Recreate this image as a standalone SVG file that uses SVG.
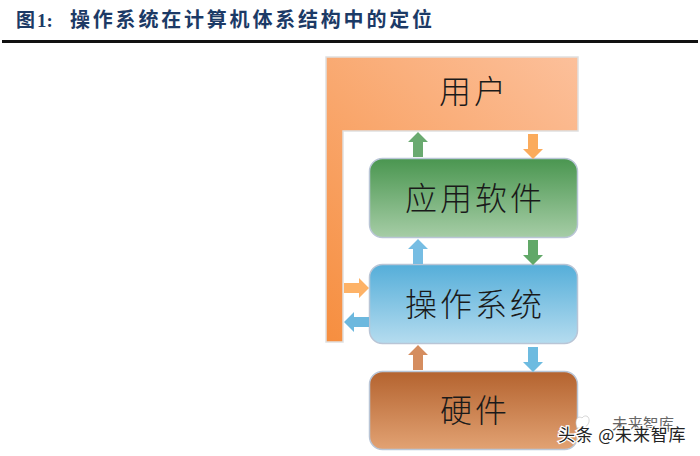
<svg xmlns="http://www.w3.org/2000/svg" width="700" height="456" viewBox="0 0 700 456">
<style>
.t{font-family:"Liberation Serif","Noto Sans CJK SC",serif;font-weight:700;font-size:19px;fill:#1c3a66}
.n{font-family:"Noto Sans CJK SC","Noto Sans",sans-serif;font-weight:300;font-size:32px;fill:#1a1a1a;text-anchor:middle}
.b{stroke:#b9c5d6;stroke-width:1.5}
.w{font-family:"Noto Sans CJK SC","Noto Sans",sans-serif;font-size:17px}
</style>
<defs>
<linearGradient id="gU" gradientUnits="userSpaceOnUse" x1="326" y1="342" x2="578" y2="57"><stop offset="0" stop-color="#f68e3f"/><stop offset="1" stop-color="#fcc09b"/></linearGradient>
<linearGradient id="gG" x1="0" y1="0" x2="0" y2="1"><stop offset="0" stop-color="#4a9650"/><stop offset="1" stop-color="#a6cda6"/></linearGradient>
<linearGradient id="gB" x1="0" y1="0" x2="0" y2="1"><stop offset="0" stop-color="#55aed9"/><stop offset="1" stop-color="#b5dcef"/></linearGradient>
<linearGradient id="gR" x1="0" y1="0" x2="0" y2="1"><stop offset="0" stop-color="#b4632f"/><stop offset="1" stop-color="#e2a273"/></linearGradient>
<path id="down" d="M-5 0H5V15H10L0 25L-10 15H-5Z"/>
</defs>
<rect width="700" height="456" fill="#fff"/>
<g id="title">
<text class="t" x="16" y="27">图</text>
<text class="t" x="37" y="27" font-size="20">1:</text>
<text class="t" x="70" y="27" style="font-size:20px" letter-spacing="2.800">操作系统在计算机体系结构中的定位</text>
<rect x="2" y="40" width="696" height="3" fill="#111"/>
</g>
<g id="user">
<path d="M326 57H578V131H343V342H326Z" fill="url(#gU)" stroke="#dfdfdf" stroke-width="1.5"/>
<text class="n" x="474" y="103" letter-spacing="3">用户</text>
</g>
<g id="app">
<rect class="b" x="369.500" y="158.500" width="208" height="79" rx="13" fill="url(#gG)"/>
<text class="n" x="475" y="210" letter-spacing="3">应用软件</text>
</g>
<g id="os">
<rect class="b" x="369.500" y="264.500" width="208" height="79" rx="13" fill="url(#gB)"/>
<text class="n" x="475" y="316" letter-spacing="3">操作系统</text>
</g>
<g id="hw">
<rect class="b" x="369.500" y="371.500" width="208" height="78" rx="13" fill="url(#gR)"/>
<text class="n" x="475" y="422" letter-spacing="3">硬件</text>
</g>
<g id="connectors">
<use href="#down" transform="translate(418,157) rotate(180)" fill="#6aaa70"/>
<use href="#down" transform="translate(533,134)" fill="#fbab5c"/>
<use href="#down" transform="translate(418,264) rotate(180)" fill="#76bde3"/>
<use href="#down" transform="translate(533,240)" fill="#61a868"/>
<use href="#down" transform="translate(344,288) rotate(-90)" fill="#fdb267"/>
<use href="#down" transform="translate(369,322) rotate(90)" fill="#6cb8de"/>
<use href="#down" transform="translate(418,370) rotate(180)" fill="#d58d5f"/>
<use href="#down" transform="translate(533,347)" fill="#6dbbe0"/>
</g>
<g id="watermark">
<path d="M577 428C574 420 578 415 582 418C585 414 590 416 589 422C588 425 586 427 584 428Z" fill="#fff" stroke="#bbb" stroke-width=".6"/>
<text class="w" x="612" y="430" style="font-size:15.500px" fill="#666" stroke="#fff" stroke-width="2" paint-order="stroke">未来智库</text>
<text class="w" x="558" y="441" fill="#222" stroke="#fff" stroke-width="2.500" paint-order="stroke" letter-spacing="0.800">头条 @未来智库</text>
</g>
</svg>
